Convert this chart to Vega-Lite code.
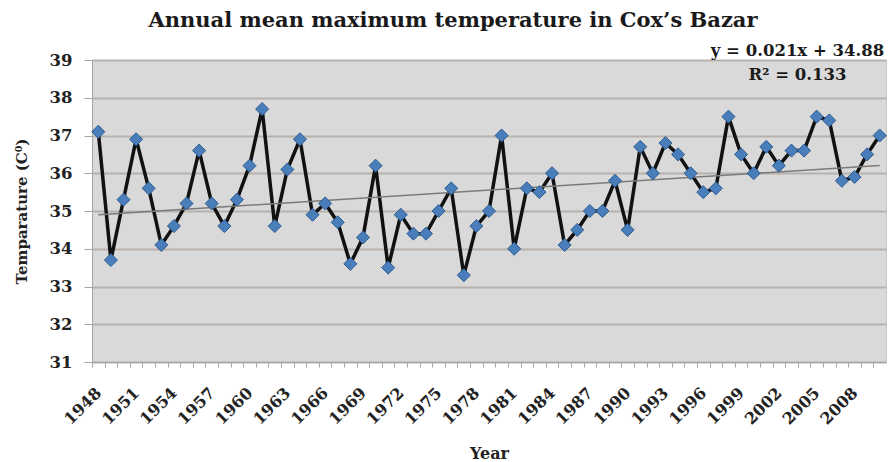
{
  "$schema": "https://vega.github.io/schema/vega-lite/v6.json",
  "width": 794,
  "height": 302,
  "autosize": "none",
  "padding": {"left": 92, "top": 60, "right": 3, "bottom": 100},
  "background": "white",
  "title": {
    "text": "Annual mean maximum temperature in Cox’s Bazar",
    "font": "DejaVu Serif",
    "fontSize": 21,
    "fontWeight": "bold",
    "color": "#1a1a1a",
    "anchor": "middle",
    "frame": "group",
    "baseline": "alphabetic",
    "offset": -5,
    "dx": -36
  },
  "config": {
    "view": {"fill": "#d9d9d9", "stroke": "#c4c4c4", "strokeWidth": 1},
    "axis": {
      "labelFont": "DejaVu Serif",
      "labelFontWeight": "bold",
      "labelColor": "#222222",
      "titleFont": "DejaVu Serif",
      "titleFontWeight": "bold",
      "titleColor": "#222222",
      "domainColor": "#a6a6a6",
      "tickColor": "#a6a6a6"
    }
  },
  "datasets": {
    "temps": [
      {"Year": 1948, "Temp": 37.1}, {"Year": 1949, "Temp": 33.7}, {"Year": 1950, "Temp": 35.3},
      {"Year": 1951, "Temp": 36.9}, {"Year": 1952, "Temp": 35.6}, {"Year": 1953, "Temp": 34.1},
      {"Year": 1954, "Temp": 34.6}, {"Year": 1955, "Temp": 35.2}, {"Year": 1956, "Temp": 36.6},
      {"Year": 1957, "Temp": 35.2}, {"Year": 1958, "Temp": 34.6}, {"Year": 1959, "Temp": 35.3},
      {"Year": 1960, "Temp": 36.2}, {"Year": 1961, "Temp": 37.7}, {"Year": 1962, "Temp": 34.6},
      {"Year": 1963, "Temp": 36.1}, {"Year": 1964, "Temp": 36.9}, {"Year": 1965, "Temp": 34.9},
      {"Year": 1966, "Temp": 35.2}, {"Year": 1967, "Temp": 34.7}, {"Year": 1968, "Temp": 33.6},
      {"Year": 1969, "Temp": 34.3}, {"Year": 1970, "Temp": 36.2}, {"Year": 1971, "Temp": 33.5},
      {"Year": 1972, "Temp": 34.9}, {"Year": 1973, "Temp": 34.4}, {"Year": 1974, "Temp": 34.4},
      {"Year": 1975, "Temp": 35.0}, {"Year": 1976, "Temp": 35.6}, {"Year": 1977, "Temp": 33.3},
      {"Year": 1978, "Temp": 34.6}, {"Year": 1979, "Temp": 35.0}, {"Year": 1980, "Temp": 37.0},
      {"Year": 1981, "Temp": 34.0}, {"Year": 1982, "Temp": 35.6}, {"Year": 1983, "Temp": 35.5},
      {"Year": 1984, "Temp": 36.0}, {"Year": 1985, "Temp": 34.1}, {"Year": 1986, "Temp": 34.5},
      {"Year": 1987, "Temp": 35.0}, {"Year": 1988, "Temp": 35.0}, {"Year": 1989, "Temp": 35.8},
      {"Year": 1990, "Temp": 34.5}, {"Year": 1991, "Temp": 36.7}, {"Year": 1992, "Temp": 36.0},
      {"Year": 1993, "Temp": 36.8}, {"Year": 1994, "Temp": 36.5}, {"Year": 1995, "Temp": 36.0},
      {"Year": 1996, "Temp": 35.5}, {"Year": 1997, "Temp": 35.6}, {"Year": 1998, "Temp": 37.5},
      {"Year": 1999, "Temp": 36.5}, {"Year": 2000, "Temp": 36.0}, {"Year": 2001, "Temp": 36.7},
      {"Year": 2002, "Temp": 36.2}, {"Year": 2003, "Temp": 36.6}, {"Year": 2004, "Temp": 36.6},
      {"Year": 2005, "Temp": 37.5}, {"Year": 2006, "Temp": 37.4}, {"Year": 2007, "Temp": 35.8},
      {"Year": 2008, "Temp": 35.9}, {"Year": 2009, "Temp": 36.5}, {"Year": 2010, "Temp": 37.0}
    ],
    "trend": [
      {"Year": 1948, "Temp": 34.901},
      {"Year": 2010, "Temp": 36.203}
    ],
    "equation": [
      {"Year": 2003, "Temp": 39.24, "label": "y = 0.021x + 34.88"},
      {"Year": 2003, "Temp": 38.6, "label": "R² = 0.133"}
    ]
  },
  "encoding": {
    "x": {
      "field": "Year",
      "type": "ordinal",
      "scale": {"type": "point", "padding": 0.5},
      "axis": {
        "title": "Year",
        "titleFontSize": 16,
        "titlePadding": 18,
        "labelFontSize": 16,
        "labelAngle": -45,
        "labelAlign": "right",
        "labelBaseline": "middle",
        "labelPadding": 23,
        "labelOffset": 6.3,
        "tickOffset": -6.3,
        "tickSize": 5,
        "labelExpr": "(datum.value - 1948) % 3 === 0 ? datum.value : ''",
        "grid": false
      }
    },
    "y": {
      "field": "Temp",
      "type": "quantitative",
      "scale": {"domain": [31, 39], "nice": false, "zero": false},
      "axis": {
        "title": "Temparature (C⁰)",
        "titleFontSize": 15,
        "titlePadding": 20,
        "labelFontSize": 16.5,
        "labelPadding": 12,
        "tickSize": 8,
        "values": [31, 32, 33, 34, 35, 36, 37, 38, 39],
        "grid": true,
        "gridColor": "#b8b1ab",
        "gridWidth": 2
      }
    }
  },
  "layer": [
    {
      "data": {"name": "temps"},
      "mark": {"type": "line", "color": "#111111", "strokeWidth": 3.5}
    },
    {
      "data": {"name": "trend"},
      "mark": {"type": "line", "color": "#7a7a7a", "strokeWidth": 1.5}
    },
    {
      "data": {"name": "temps"},
      "mark": {
        "type": "point",
        "shape": "diamond",
        "size": 170,
        "filled": true,
        "fill": "#4a7ebb",
        "stroke": "#2e5d92",
        "strokeWidth": 1,
        "opacity": 1
      }
    },
    {
      "data": {"name": "equation"},
      "mark": {
        "type": "text",
        "font": "DejaVu Serif",
        "fontSize": 16.5,
        "fontWeight": "bold",
        "color": "#1a1a1a",
        "align": "center",
        "baseline": "middle",
        "dx": 6
      },
      "encoding": {"text": {"field": "label"}}
    }
  ]
}
